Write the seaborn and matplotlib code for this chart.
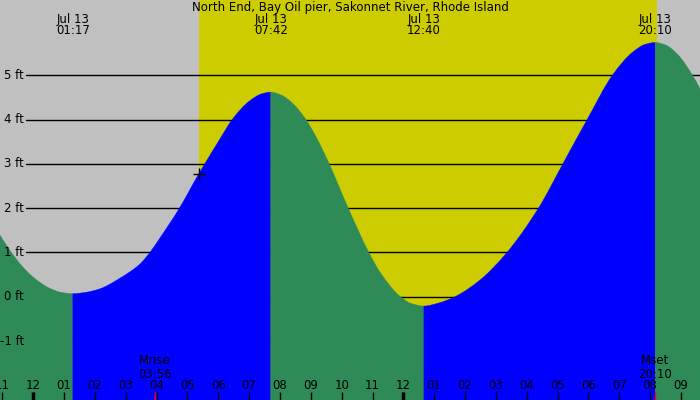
import numpy as np
import pandas as pd
import matplotlib
matplotlib.use("Agg")
import matplotlib.pyplot as plt
from matplotlib.path import Path
from matplotlib.patches import PathPatch
import seaborn as sns

TITLE = "North End, Bay Oil pier, Sakonnet River, Rhode Island"

# tide height (hours after midnight, Jul 13 / feet)
hours = [-1.08, -0.76, -0.40, 0.00, 0.54, 0.90, 1.283, 1.70, 2.16, 2.81,
         3.46, 3.78, 4.11, 4.73, 5.37, 5.56, 6.05, 6.47, 7.03, 7.40,
         7.70, 8.05, 8.42, 8.84, 9.20, 9.59, 10.20, 10.88, 11.24, 11.89,
         12.25, 12.667, 13.15, 13.67, 14.49, 15.36, 16.40, 17.18, 17.96, 18.80,
         19.45, 19.85, 20.167, 20.50, 20.87, 21.36, 21.62]
height_ft = [1.39, 1.05, 0.72, 0.44, 0.19, 0.10, 0.07, 0.10, 0.18, 0.42,
             0.74, 1.00, 1.33, 1.99, 2.78, 3.00, 3.56, 4.02, 4.43, 4.58,
             4.62, 4.55, 4.36, 4.00, 3.57, 3.01, 2.02, 1.00, 0.56, 0.01,
             -0.15, -0.21, -0.14, 0.00, 0.38, 1.00, 2.02, 3.01, 4.00, 5.02,
             5.53, 5.70, 5.74, 5.685, 5.49, 5.02, 4.70]

# high / low water
extreme_hours = [1.283, 7.700, 12.667, 20.167]
extreme_times = ["01:17", "07:42", "12:40", "20:10"]
extreme_date = "Jul 13"

sunrise_h = 5.37
sunset_h = 20.23
moonrise_h = 3.933
moonset_h = 20.167
moon_labels = ["Mrise\n03:56", "Mset\n20:10"]

levels = [-1, 0, 1, 2, 3, 4, 5]
hour_ticks = list(range(-1, 22))
hour_labels = ["11", "12", "01", "02", "03", "04", "05", "06", "07", "08", "09", "10",
               "11", "12", "01", "02", "03", "04", "05", "06", "07", "08", "09"]

NIGHT = "#c0c0c0"
DAY = "#cccc00"
RISING = "#0000ff"
FALLING = "#2e8b57"

W, H = 700, 400
XLIM = (-1.08, 21.62)
YLIM = (-2.33, 6.70)


def pchip_slopes(x, y):
    """Monotone (Fritsch-Carlson) tangents, so the drawn curve never overshoots."""
    hx = np.diff(x)
    d = np.diff(y) / hx
    m = np.zeros_like(y)
    m[0], m[-1] = d[0], d[-1]
    for k in range(1, len(y) - 1):
        if d[k - 1] * d[k] > 0:
            w1 = 2 * hx[k] + hx[k - 1]
            w2 = hx[k] + 2 * hx[k - 1]
            m[k] = (w1 + w2) / (w1 / d[k - 1] + w2 / d[k])
    return m


def tide_patch(x, y, m, base, color):
    verts = [(x[0], base), (x[0], y[0])]
    codes = [Path.MOVETO, Path.LINETO]
    for i in range(len(x) - 1):
        dx = x[i + 1] - x[i]
        verts += [(x[i] + dx / 3, y[i] + m[i] * dx / 3),
                  (x[i + 1] - dx / 3, y[i + 1] - m[i + 1] * dx / 3),
                  (x[i + 1], y[i + 1])]
        codes += [Path.CURVE4] * 3
    verts += [(x[-1], base), (x[0], base)]
    codes += [Path.LINETO, Path.CLOSEPOLY]
    return PathPatch(Path(verts, codes), facecolor=color, edgecolor=color,
                     lw=0.3, zorder=2)


sns.set_style("white")
plt.rcParams["font.family"] = ["DejaVu Sans"]
plt.rcParams["text.color"] = "black"

df = pd.DataFrame({"hour": hours, "height": height_ft})
t = df["hour"].to_numpy(float)
h = df["height"].to_numpy(float)
slopes = pchip_slopes(t, h)

fig = plt.figure(figsize=(7, 4), dpi=100)
ax = fig.add_axes([0, 0, 1, 1])
ax.set_xlim(*XLIM)
ax.set_ylim(*YLIM)
ax.set_facecolor(NIGHT)
for s in ax.spines.values():
    s.set_visible(False)
ax.set_xticks([])
ax.set_yticks([])

ax.axvspan(sunrise_h, sunset_h, color=DAY, lw=0, zorder=0)

for lv in levels:
    ax.axhline(lv, xmin=26 / W, color="black", lw=1, zorder=1)

# fill tide: rising blue, falling green
bounds = [XLIM[0]] + extreme_hours + [XLIM[1]]
for i in range(len(bounds) - 1):
    a, b = bounds[i], bounds[i + 1]
    m = (t >= a - 1e-6) & (t <= b + 1e-6)
    rising = h[m][-1] > h[m][0]
    ax.add_patch(tide_patch(t[m], h[m], slopes[m], YLIM[0] - 1,
                            RISING if rising else FALLING))

# sunrise marker on curve
sns.scatterplot(x=[sunrise_h], y=[np.interp(sunrise_h, t, h)], marker="+", s=80,
                linewidth=1, color="black", ax=ax, zorder=3, legend=False)

fs = 8.5
xt = ax.get_xaxis_transform()
yt = ax.get_yaxis_transform()

for lv in levels:
    ax.text(24 / W, lv, f"{lv} ft", transform=yt, ha="right", va="center",
            fontsize=fs, zorder=4)

fig.text(0.5, 1 - 7 / H, TITLE, ha="center", va="center", fontsize=fs)
for eh, et in zip(extreme_hours, extreme_times):
    ax.text(eh, 1 - 19.5 / H, extreme_date, transform=xt, ha="center", va="center", fontsize=fs)
    ax.text(eh, 1 - 31 / H, et, transform=xt, ha="center", va="center", fontsize=fs)

# hour ticks along bottom
ax.vlines(hour_ticks, 0, 8 / H, transform=xt, color="black", lw=1, zorder=4)
ax.vlines([0, 12], 0, 8 / H, transform=xt, color="black", lw=2.5, zorder=4)
for hk, lab in zip(hour_ticks, hour_labels):
    ax.text(hk, 1 - 385.5 / H, lab, transform=xt, ha="center", va="center",
            fontsize=fs, zorder=4)

ax.vlines([moonrise_h, moonset_h], 0, 8 / H, transform=xt, color="red", lw=1, zorder=5)
for mh, ml in zip([moonrise_h, moonset_h], moon_labels):
    ax.text(mh, 1 - 367.5 / H, ml, transform=xt, ha="center", va="center",
            fontsize=fs, linespacing=1.0, zorder=4)

fig.savefig("out.png", dpi=100)
plt.close(fig)
